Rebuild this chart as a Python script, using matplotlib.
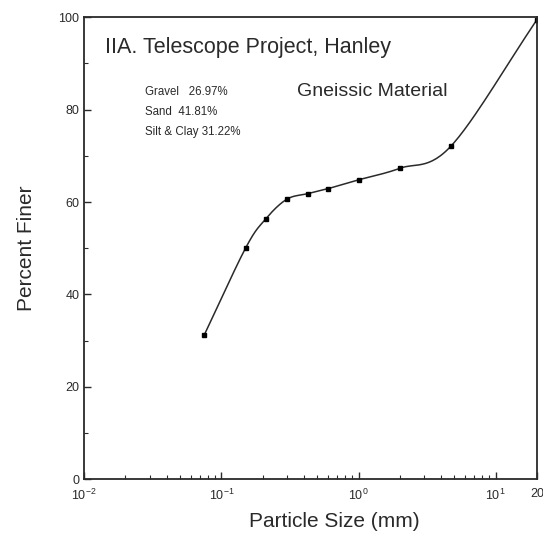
import numpy as np
import matplotlib
matplotlib.use("Agg")
import matplotlib.pyplot as plt
from matplotlib.ticker import FixedLocator, FixedFormatter, LogLocator, NullFormatter

# grain size distribution
size_mm = [0.075, 0.15, 0.21, 0.30, 0.425, 0.60, 1.0, 2.0, 4.75, 20.0]
pct_finer = [31.2, 50.0, 56.3, 60.6, 61.8, 62.9, 64.8, 67.3, 72.2, 99.5]

fractions = ["Gravel   26.97%", "Sand  41.81%", "Silt & Clay 31.22%"]

x_ticks = [0.01, 0.1, 1, 10, 20]
x_tick_labels = ["$10^{-2}$", "$10^{-1}$", "$10^{0}$", "$10^{1}$", "20"]
y_ticks = [0, 20, 40, 60, 80, 100]

ink = "#2a2a2a"
plt.rcParams["font.family"] = ["Liberation Sans", "DejaVu Sans"]
plt.rcParams["mathtext.fontset"] = "custom"
plt.rcParams["mathtext.rm"] = "Liberation Sans"
plt.rcParams["mathtext.it"] = "Liberation Sans"


def smooth_curve(xs, ys, n=30):
    # Catmull-Rom through the points in log-x space, only for drawing the line
    lx = np.log10(xs)
    ys = np.asarray(ys, dtype=float)
    px = np.concatenate([[2 * lx[0] - lx[1]], lx, [2 * lx[-1] - lx[-2]]])
    py = np.concatenate([[2 * ys[0] - ys[1]], ys, [2 * ys[-1] - ys[-2]]])
    out_x, out_y = [], []
    t = np.linspace(0, 1, n)
    for i in range(1, len(px) - 2):
        for p, out in ((px, out_x), (py, out_y)):
            p0, p1, p2, p3 = p[i - 1], p[i], p[i + 1], p[i + 2]
            out.extend(0.5 * (2 * p1 + (-p0 + p2) * t
                              + (2 * p0 - 5 * p1 + 4 * p2 - p3) * t ** 2
                              + (-p0 + 3 * p1 - 3 * p2 + p3) * t ** 3))
    return 10 ** np.array(out_x), np.array(out_y)


fig = plt.figure(figsize=(5.43, 5.39), dpi=100)
ax = fig.add_axes([0.155, 0.111, 0.834, 0.857])

cx, cy = smooth_curve(size_mm, pct_finer)
ax.plot(cx, cy, color=ink, lw=1.1)
ax.plot(size_mm, pct_finer, ls="none", marker="s", ms=3.2, color="black")

ax.set_xscale("log")
ax.set_xlim(0.01, 20)
ax.set_ylim(0, 100)

ax.xaxis.set_major_locator(FixedLocator(x_ticks))
ax.xaxis.set_major_formatter(FixedFormatter(x_tick_labels))
ax.xaxis.set_minor_locator(LogLocator(base=10, subs=np.arange(2, 10)))
ax.xaxis.set_minor_formatter(NullFormatter())
ax.set_yticks(y_ticks)
ax.set_yticks([10, 30, 50, 70, 90], minor=True)

ax.tick_params(which="both", direction="in", color=ink, labelcolor=ink,
               top=False, right=False)
ax.tick_params(which="major", length=5, width=1, labelsize=9)
ax.tick_params(which="minor", length=3, width=0.8)
ax.tick_params(axis="x", pad=6)
for s in ax.spines.values():
    s.set_color(ink)
    s.set_linewidth(1.3)

ax.set_xlabel("Particle Size (mm)", fontsize=15, color=ink)
ax.xaxis.set_label_coords(0.552, -0.072)
ax.set_ylabel("Percent Finer", fontsize=15, color=ink, labelpad=16)

ax.text(0.045, 0.935, "IIA. Telescope Project, Hanley", transform=ax.transAxes,
        fontsize=15.5, color=ink, va="center", ha="left")
ax.text(0.47, 0.84, "Gneissic Material", transform=ax.transAxes,
        fontsize=14, color=ink, va="center", ha="left")
for i, label in enumerate(fractions):
    ax.text(0.135, 0.838 - i * 0.043, label, transform=ax.transAxes,
            fontsize=8.3, color=ink, va="center", ha="left")

fig.savefig("out.png", dpi=100)
plt.close(fig)
